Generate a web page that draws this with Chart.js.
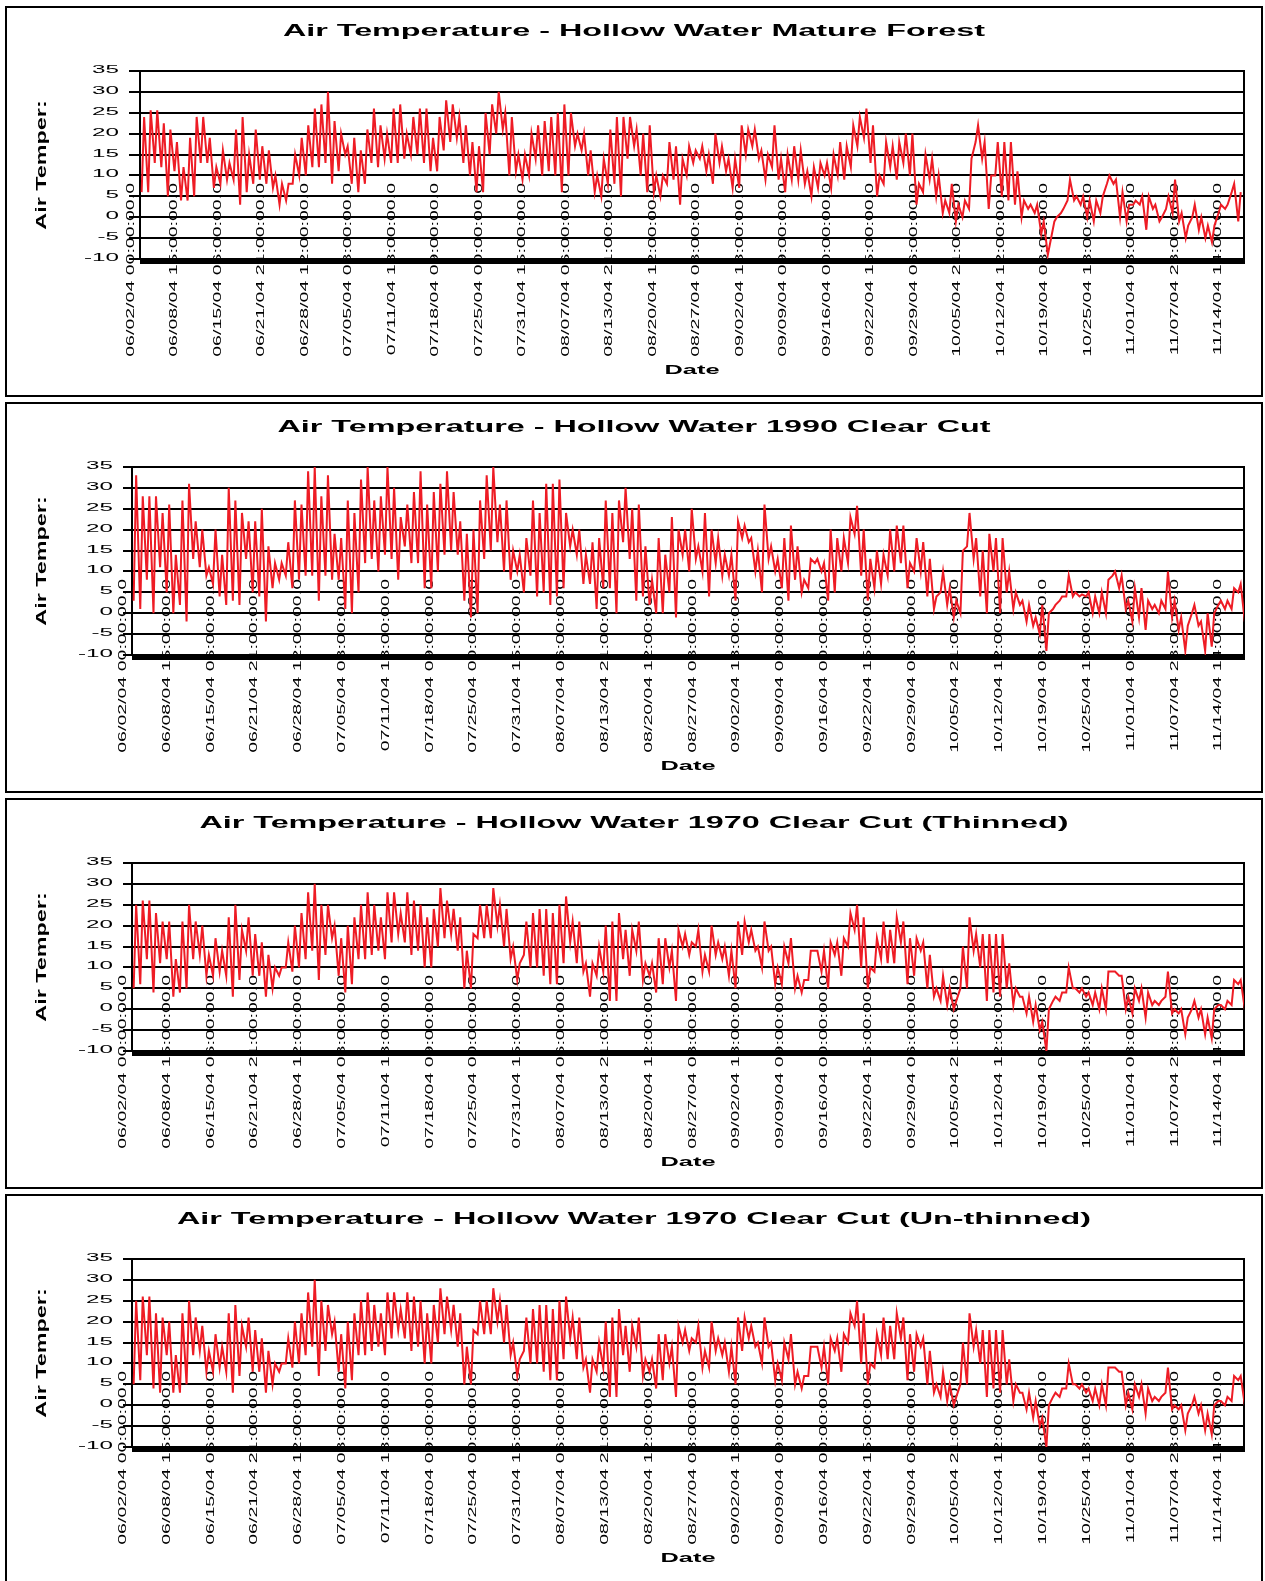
<!DOCTYPE html>
<html>
<head>
<meta charset="utf-8">
<script src="https://cdn.jsdelivr.net/npm/chart.js@4.4.1/dist/chart.umd.min.js"></script>
<style>
  body { margin: 0; background: #fff; width: 1265px; height: 1581px; overflow: hidden; position: relative; }
  .panel { position: absolute; left: 5px; width: 1254px; height: 387px; border: 2px solid #000; }
  .panel div { position: absolute; left: 0; top: 0; width: 1254px; height: 387px; }
</style>
</head>
<body>
<div class="panel" style="top:6px"><div><canvas id="c1"></canvas></div></div>
<div class="panel" style="top:402px"><div><canvas id="c2"></canvas></div></div>
<div class="panel" style="top:798px"><div><canvas id="c3"></canvas></div></div>
<div class="panel" style="top:1194px"><div><canvas id="c4"></canvas></div></div>
<script>
// x axis runs in hours from 06/02/04 00:00
const tickHours = [0, 159, 318, 477, 636, 795, 954, 1113, 1272, 1431, 1590, 1749, 1908,
  2067, 2226, 2385, 2544, 2703, 2862, 3021, 3180, 3339, 3498, 3657, 3816, 3975];
const tickLabels = ['06/02/04 00:00:00.0', '06/08/04 15:00:00.0', '06/15/04 06:00:00.0',
  '06/21/04 21:00:00.0', '06/28/04 12:00:00.0', '07/05/04 03:00:00.0', '07/11/04 18:00:00.0',
  '07/18/04 09:00:00.0', '07/25/04 00:00:00.0', '07/31/04 15:00:00.0', '08/07/04 06:00:00.0',
  '08/13/04 21:00:00.0', '08/20/04 12:00:00.0', '08/27/04 03:00:00.0', '09/02/04 18:00:00.0',
  '09/09/04 09:00:00.0', '09/16/04 00:00:00.0', '09/22/04 15:00:00.0', '09/29/04 06:00:00.0',
  '10/05/04 21:00:00.0', '10/12/04 12:00:00.0', '10/19/04 03:00:00.0', '10/25/04 18:00:00.0',
  '11/01/04 08:00:00.0', '11/07/04 23:00:00.0', '11/14/04 14:00:00.0'];
const lastHour = 4035;
const yTicks = [-10, -5, 0, 5, 10, 15, 20, 25, 30, 35];

// daily low (early morning) and high (afternoon) air temperature, one entry per day
const lowHour = 6;
const highHour = 15;

const matureLow = [
  6, 6, 13, 12, 5, 11, 4, 4, 5, 13, 13, 7, 8, 9, 9, 3, 6, 8, 9, 8, 7, 3, 4, 8, 10, 10, 12, 12, 13, 8,
  11, 15, 8, 6, 8, 13, 12, 14, 13, 13, 14, 15, 15,
  13, 11, 11, 16, 18, 19, 13, 10, 6, 6, 15, 20, 21, 10, 11, 9, 10, 14, 10, 11, 10, 6, 10, 17, 16, 10,
  6, 5, 8, 8, 5, 14, 17, 10, 6, 6, 5, 8, 9, 3, 10, 13, 14, 11, 8, 13, 11, 7, 7, 15, 17, 14, 9, 12, 9,
  6, 9, 9, 8, 5, 7, 10, 7, 10, 9,
  12, 17, 19, 13, 5, 8, 12, 9, 13, 10, 3, 6, 9, 5, 1, 1, -1, 0, 2, 18, 14, 2, 10, 5, 4, 3, 0, 2, 1, -4,
  -9, -1, 1, 4, 4, 3, 0, -1, 1, 8, 8, 0, -1, 3, 3, -3, 2, -1, 2, 1, -1, -5, 0, -3, -5, -6, 1, 2, 6, -1];
const matureHigh = [
  24, 25.6, 25.6, 22.5, 21, 18, 12, 19, 24, 24, 19, 12, 16, 13, 21, 24, 15, 21, 17, 16, 10, 8, 8, 15,
  19, 22, 26, 27, 30, 23, 20, 17, 19, 16, 21, 26, 22, 20, 26, 27, 20, 24, 26,
  26, 19, 24, 28, 27, 24, 22, 18, 17, 25, 27, 30, 25, 24, 15, 15, 20, 22, 23, 24, 25, 27, 25, 20, 20,
  16, 10, 14, 21, 24, 24, 24, 21, 20, 22, 10, 10, 18, 17, 14, 17, 16, 17, 15, 20, 17, 14, 14, 22, 21,
  21, 16, 15, 22, 14, 15, 17, 16, 11, 12, 13, 13, 15, 18, 17,
  22, 24, 26, 22, 10, 18, 17, 18, 20, 20, 8, 15, 14, 10, 4, 8, 3, 4, 14, 22, 18, 10, 18, 18, 18, 11, 4,
  3, 3, -1, -6, 0, 2, 9, 5, 5, 4, 4, 5, 10, 9, 6, 3, 4, 5, 5, 3, 0, 5, 9, 1, -2, 3, 0, -2, -2, 3, 3, 8, 6];

const cc1990Low = [
  3, 1, 8, 0, 11, 5, 0, 2, -2, 13, 11, 9, 7, 4, 2, 3, 2, 13, 5, 4, -2, 6, 8, 9, 6, 8, 9, 9, 3, 9,
  8, 8, 1, 0, 5, 12, 13, 10, 14, 13, 8, 16, 12,
  12, 6, 6, 10, 14, 15, 14, 3, -1, 0, 13, 15, 17, 10, 8, 10, 5, 9, 4, 5, 2, 4, 6, 16, 14, 7, 7, 1, 6, 6,
  0, 17, 13, 3, 4, 2, 0, 0, 5, -1, 14, 10, 13, 10, 4, 12, 9, 9, 3, 18, 17, 10, 5, 13, 10, 6, 3, 8, 5, 6,
  12, 10, 3, 5, 10,
  12, 19, 9, 3, 6, 7, 9, 10, 12, 6, 10, 10, 4, 1, 5, 2, -1, 0, 16, 13, 4, 0, 10, 0, 5, 1, 2, -2, -3, -5,
  -9, 1, 3, 4, 4, 4, 4, 0, 0, 0, 9, 6, 1, -2, -1, -4, 1, 0, 1, -1, -4, -9, 0, -3, -9, -8, 2, 1, 1, 5, -2];
const cc1990High = [
  33, 28, 28, 28, 24, 26, 14, 27, 31, 22, 20, 11, 20, 14, 30, 27, 24, 22, 22, 25, 16, 12, 12, 17, 27,
  26, 34, 35, 28, 33, 19, 18, 27, 24, 32, 35, 27, 28, 35, 30, 23, 26, 29,
  34, 26, 29, 31, 34, 29, 22, 19, 20, 27, 33, 35, 26, 27, 15, 14, 18, 27, 24, 31, 31, 32, 24, 20, 20,
  14, 17, 18, 27, 24, 27, 30, 25, 26, 16, 8, 18, 14, 23, 20, 20, 25, 16, 24, 20, 18, 14, 14, 22, 21,
  18, 15, 26, 16, 13, 18, 21, 16, 8, 13, 13, 12, 20, 18, 18,
  23, 25.7, 20, 13, 15, 14, 20, 21, 21, 12, 18, 17, 13, 4, 10, 6, 3, 15, 24, 18, 15, 19, 18, 18, 10, 5,
  3, 2, -1, 2, 0, 2, 4, 9, 5, 4.5, 5, 4, 5, 8, 10, 9, 3, 6, 6, 3, 2, 3, 10, 3, -1, -3, 2, -2, 0, 0, 3,
  3, 6, 7, 7];

const thinnedLow = [
  5, 6, 12, 4, 11, 12, 3, 4, 5, 12, 13, 8, 8, 9, 8, 3, 7, 14, 8, 8, 3, 5, 8, 10, 9, 10, 12, 14, 7, 13,
  17, 8, 4, 6, 12, 12, 13, 14, 12, 16, 18, 16, 13,
  14, 10, 10, 15, 17, 18, 14, 5, 5, 17, 17, 17, 20, 15, 12, 7, 13, 10, 10, 8, 6, 6, 11, 16, 11, 9, 3,
  8, 9, 2, 2, 12, 8, 14, 7, 8, 4, 6, 10, 2, 15, 13, 15, 9, 9, 13, 12, 8, 5, 13, 16, 14, 10, 14, 6, 6,
  11, 5, 4, 7, 14, 9, 5, 13, 8,
  15, 19, 10, 5, 9, 12, 11, 11, 16, 6, 8, 14, 5, 3, 2, 1, 0, 5, 5, 14, 10, 2, 4, 3, 5, 1, 3, -1, -3, -5,
  -10, 2, 2, 4, 5, 4, 3, 1, 0, 0, 9, 8, 0, -1, 2, -2, 1, 1, 3, -1, -1, -6, 0, -2, -6, -7, 1, 0, 1, 6, 0];
const thinnedHigh = [
  25, 26, 26, 23, 21, 21, 12, 21, 25, 21, 20, 13, 17, 14, 22, 25, 19, 22, 18, 16, 13, 10, 10, 16, 20,
  23, 28, 30, 25, 25, 20, 17, 20, 22, 25, 28, 25, 22, 28, 28, 23, 28, 26,
  25, 22, 24, 29, 26, 24, 22, 14, 18, 25, 25, 29, 25, 24, 15, 11, 21, 23, 24, 24, 23, 25, 27, 21, 21,
  11, 11, 15, 20, 21, 23, 19, 19, 21, 11, 11, 17, 17, 14, 19, 18, 16, 19, 13, 20, 16, 15, 14, 21, 21,
  19, 15, 21, 15, 10, 15, 17, 8, 7, 14, 14, 14, 16, 16, 17,
  23, 25, 22, 10, 17, 21, 19, 22, 21, 17, 17, 16, 13, 5, 8, 5, 2, 15, 22, 18, 18, 18, 18, 18, 11, 5, 3,
  3, 1, -3, 0, 3, 4, 10, 5, 5, 4, 4, 5, 9, 9, 8, 3, 5, 5, 4, 2, 2, 9, 0, 0, -2, 2, 0, -2, 0, 1, 2, 7,
  7, 0];

const unthinnedLow = [
  5, 6, 12, 4, 3, 12, 3, 3, 5, 12, 13, 8, 8, 9, 8, 3, 7, 14, 8, 8, 3, 5, 8, 10, 9, 10, 12, 14, 7, 13,
  17, 8, 4, 6, 12, 12, 13, 14, 12, 16, 18, 16, 13,
  14, 10, 10, 15, 17, 18, 14, 5, 5, 17, 17, 17, 20, 15, 12, 7, 13, 10, 10, 8, 6, 6, 11, 16, 11, 9, 3,
  8, 9, 2, 2, 12, 8, 14, 7, 8, 4, 6, 10, 2, 15, 13, 15, 9, 9, 13, 12, 8, 5, 13, 16, 14, 10, 14, 6, 6,
  11, 5, 4, 7, 14, 9, 5, 13, 8,
  15, 19, 10, 5, 9, 12, 11, 11, 16, 6, 8, 14, 5, 3, 2, 1, 0, 5, 5, 14, 10, 2, 4, 3, 5, 1, 3, -1, -3, -5,
  -10, 2, 2, 4, 5, 4, 3, 1, 0, 0, 9, 8, 0, -1, 2, -2, 1, 1, 3, -1, -1, -6, 0, -2, -6, -7, 1, 0, 1, 6, 0];
const unthinnedHigh = [
  25, 26, 26, 22, 21, 20, 12, 22, 25, 21, 19, 13, 17, 14, 22, 24, 19, 21, 18, 16, 13, 10, 10, 16, 20,
  22, 27, 30, 25, 24, 20, 17, 20, 22, 25, 27, 24, 22, 27, 27, 23, 27, 26,
  25, 22, 24, 28, 26, 24, 22, 14, 18, 25, 25, 28, 25, 24, 15, 11, 21, 23, 24, 24, 23, 25, 26, 21, 21,
  11, 11, 15, 20, 21, 23, 19, 19, 21, 11, 11, 17, 17, 14, 19, 18, 16, 19, 13, 20, 16, 15, 14, 21, 21,
  19, 15, 21, 15, 10, 15, 17, 8, 7, 14, 14, 14, 16, 16, 17,
  22, 25, 22, 10, 17, 21, 19, 22, 21, 17, 17, 16, 13, 5, 8, 5, 2, 15, 22, 18, 18, 18, 18, 18, 11, 5, 3,
  3, 1, -3, 0, 3, 4, 10, 5, 5, 4, 4, 5, 9, 9, 8, 3, 5, 5, 4, 2, 2, 9, 0, 0, -2, 2, 0, -2, 0, 1, 2, 7,
  7, 0];

const panels = [
  { id: 'c1', title: 'Air Temperature - Hollow Water Mature Forest', low: matureLow, high: matureHigh, left: 133, tick: 11 },
  { id: 'c2', title: 'Air Temperature - Hollow Water 1990 Clear Cut', low: cc1990Low, high: cc1990High, left: 125, tick: 9 },
  { id: 'c3', title: 'Air Temperature - Hollow Water 1970 Clear Cut (Thinned)', low: thinnedLow, high: thinnedHigh, left: 125, tick: 9 },
  { id: 'c4', title: 'Air Temperature - Hollow Water 1970 Clear Cut (Un-thinned)', low: unthinnedLow, high: unthinnedHigh, left: 125, tick: 9 },
];

function dailyPoints(low, high) {
  const pts = [];
  low.forEach((v, d) => {
    pts.push({ x: d * 24 + lowHour, y: v });
    pts.push({ x: d * 24 + highHour, y: high[d] });
  });
  return pts;
}

// the old spreadsheet stretched every text sideways, so draw text scaled in x
function wideText(ctx, text, x, y, o) {
  ctx.save();
  ctx.translate(x, y);
  if (o.rot) ctx.rotate(o.rot);
  ctx.scale(o.sx, 1);
  ctx.font = o.font;
  ctx.fillStyle = '#000';
  ctx.textAlign = o.align || 'center';
  ctx.textBaseline = o.base || 'middle';
  ctx.fillText(text, 0, 0);
  ctx.restore();
}

const panelDecor = {
  id: 'panelDecor',
  beforeDatasetsDraw(chart, args, opts) {
    const { ctx, chartArea: a, scales: { x, y } } = chart;
    ctx.save();
    ctx.fillStyle = '#000';
    ctx.fillRect(a.left, a.bottom, a.right - a.left + 1, 5);
    ctx.fillRect(a.right - 1, a.top - 1, 2, a.bottom - a.top + 2);
    ctx.restore();

    y.ticks.forEach((t) => {
      wideText(ctx, String(t.value), a.left - opts.tick - 10, y.getPixelForValue(t.value) - 1,
        { sx: 2.2, font: '11px "Liberation Sans"', align: 'right' });
    });
    x.ticks.forEach((t, i) => {
      wideText(ctx, tickLabels[i], x.getPixelForValue(t.value) - 9, a.bottom - 76,
        { sx: 1.86, rot: -Math.PI / 2, font: '10.5px "Liberation Sans"', align: 'right' });
    });

    wideText(ctx, opts.title, chart.width / 2, 27.5,
      { sx: 2.02, font: 'bold 16px "Liberation Sans"', base: 'alphabetic' });
    wideText(ctx, 'Air Temper:', 35, (a.top + a.bottom) / 2,
      { sx: 1.67, rot: -Math.PI / 2, font: 'bold 14px "Liberation Sans"' });
    wideText(ctx, 'Date', (a.left + a.right) / 2, a.bottom + 112,
      { sx: 2.03, font: 'bold 12.5px "Liberation Sans"' });
  }
};

panels.forEach((p) => {
  new Chart(document.getElementById(p.id), {
    type: 'line',
    data: {
      datasets: [{
        data: dailyPoints(p.low, p.high),
        borderColor: '#ee1c25',
        borderWidth: 2,
        pointRadius: 0,
        tension: 0,
      }],
    },
    options: {
      responsive: true,
      maintainAspectRatio: false,
      animation: false,
      layout: { padding: { top: 63, right: 17, left: 0, bottom: 0 } },
      plugins: {
        legend: { display: false },
        tooltip: { enabled: false },
        panelDecor: { title: p.title, tick: p.tick },
      },
      scales: {
        x: {
          type: 'linear',
          min: 0,
          max: lastHour,
          afterBuildTicks: (s) => { s.ticks = tickHours.map((v) => ({ value: v })); },
          afterFit: (s) => { s.height = 136; },
          grid: { display: false },
          border: { display: true, color: '#000', width: 2 },
          ticks: { display: false },
        },
        y: {
          min: -10,
          max: 35,
          afterBuildTicks: (s) => { s.ticks = yTicks.map((v) => ({ value: v })); },
          afterFit: (s) => { s.width = p.left; },
          grid: { color: '#000', lineWidth: 2, tickLength: p.tick, drawTicks: true },
          border: { display: true, color: '#000', width: 2 },
          ticks: { display: false },
        },
      },
    },
    plugins: [panelDecor],
  });
});
</script>
</body>
</html>
